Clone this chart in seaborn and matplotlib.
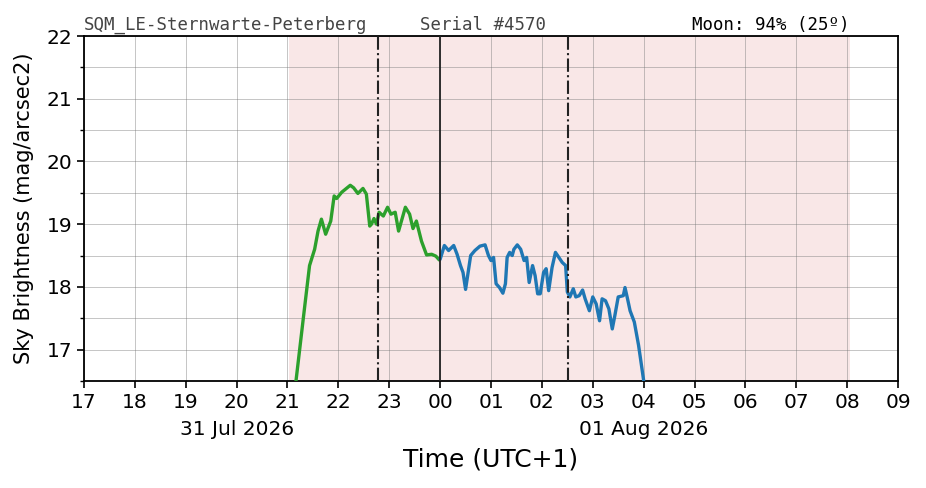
import matplotlib
matplotlib.use("Agg")
import matplotlib.pyplot as plt
import matplotlib.dates as mdates
import matplotlib.ticker as mticker
import matplotlib.transforms as mtransforms
import pandas as pd
import seaborn as sns

sns.set_theme(style="ticks")
plt.rcParams["font.family"] = ["DejaVu Sans"]
plt.rcParams["text.color"] = "black"
plt.rcParams["axes.labelcolor"] = "black"
plt.rcParams["xtick.color"] = "black"
plt.rcParams["ytick.color"] = "black"

# evening part (31 Jul), green
green_time = ["21:10", "21:19", "21:26", "21:32", "21:36", "21:40", "21:45", "21:51",
              "21:55", "21:58", "22:04", "22:14", "22:18", "22:23", "22:29", "22:33",
              "22:37", "22:39", "22:42", "22:45", "22:48", "22:53", "22:58", "23:02",
              "23:07", "23:11", "23:15", "23:19", "23:24", "23:28", "23:32", "23:38",
              "23:44", "23:50", "23:55", "23:59"]
green_mag = [16.50, 17.54, 18.34, 18.60, 18.89, 19.08, 18.84, 19.05,
             19.45, 19.41, 19.51, 19.62, 19.58, 19.49, 19.57, 19.48,
             18.97, 19.00, 19.09, 19.00, 19.19, 19.13, 19.27, 19.16,
             19.19, 18.89, 19.08, 19.27, 19.16, 18.93, 19.05, 18.73,
             18.51, 18.52, 18.49, 18.43]

# after midnight (01 Aug), blue
blue_time = ["00:00", "00:05", "00:10", "00:16", "00:20", "00:24", "00:27", "00:30",
             "00:33", "00:36", "00:41", "00:47", "00:53", "00:57", "01:00", "01:03",
             "01:06", "01:10", "01:14", "01:17", "01:19", "01:22", "01:25", "01:27",
             "01:31", "01:35", "01:39", "01:42", "01:45", "01:49", "01:52", "01:55",
             "01:58", "02:02", "02:05", "02:08", "02:12", "02:16", "02:20", "02:24",
             "02:28", "02:30", "02:33", "02:37", "02:40", "02:44", "02:48", "02:51",
             "02:56", "03:00", "03:04", "03:08", "03:11", "03:15", "03:19", "03:23",
             "03:26", "03:30", "03:36", "03:38", "03:41", "03:44", "03:49", "03:54",
             "04:00"]
blue_mag = [18.44, 18.66, 18.58, 18.66, 18.52, 18.34, 18.23, 17.96,
            18.23, 18.50, 18.58, 18.65, 18.67, 18.50, 18.42, 18.47,
            18.05, 17.99, 17.90, 18.05, 18.47, 18.55, 18.50, 18.60,
            18.67, 18.60, 18.42, 18.47, 18.07, 18.34, 18.18, 17.89,
            17.89, 18.23, 18.29, 17.94, 18.31, 18.55, 18.47, 18.39,
            18.34, 17.92, 17.84, 17.97, 17.84, 17.86, 17.95, 17.81,
            17.62, 17.84, 17.73, 17.46, 17.81, 17.78, 17.65, 17.33,
            17.54, 17.84, 17.86, 17.99, 17.81, 17.62, 17.44, 17.07,
            16.51]

night_span = ("2026-07-31 21:02", "2026-08-01 08:03")
moon_lines = ["2026-07-31 22:47", "2026-08-01 02:31"]
midnight = "2026-08-01 00:00"
x_range = ("2026-07-31 17:00", "2026-08-01 09:00")
date_ticks = ["2026-07-31 20:00", "2026-08-01 04:00"]
date_labels = ["31 Jul 2026", "01 Aug 2026"]

green_df = pd.DataFrame({
    "time": pd.to_datetime(["2026-07-31 " + t for t in green_time]),
    "mag": green_mag,
})
blue_df = pd.DataFrame({
    "time": pd.to_datetime(["2026-08-01 " + t for t in blue_time]),
    "mag": blue_mag,
})

fig = plt.figure(figsize=(9.26, 4.88), dpi=100)
ax = fig.add_axes([0.0907, 0.2193, 0.8791, 0.7069])

ax.axvspan(pd.Timestamp(night_span[0]), pd.Timestamp(night_span[1]),
           color="#e8a0a0", alpha=0.25, lw=0, zorder=0)

sns.lineplot(data=green_df, x="time", y="mag", color="#2ca02c", lw=2.4, ax=ax, zorder=3)
sns.lineplot(data=blue_df, x="time", y="mag", color="#1f77b4", lw=2.4, ax=ax, zorder=3)

for t in moon_lines:
    ax.axvline(pd.Timestamp(t), color="#222222", lw=1.5, ls="-.", zorder=4)
ax.axvline(pd.Timestamp(midnight), color="#222222", lw=1.3, zorder=4)

ax.set_xlim(pd.Timestamp(x_range[0]), pd.Timestamp(x_range[1]))
ax.set_ylim(16.5, 22)

ax.xaxis.set_major_locator(mdates.HourLocator(interval=1))
ax.xaxis.set_major_formatter(mdates.DateFormatter("%H"))
ax.yaxis.set_major_locator(mticker.MultipleLocator(1))
ax.yaxis.set_minor_locator(mticker.MultipleLocator(0.5))

# date line under the hour labels
trans = mtransforms.blended_transform_factory(ax.transData, ax.transAxes)
for t, lab in zip(date_ticks, date_labels):
    ax.text(mdates.date2num(pd.Timestamp(t)), -0.142, lab, transform=trans,
            ha="center", va="center", fontsize=14.5)

ax.grid(which="major", color="#777777", lw=0.5, alpha=0.6)
ax.grid(which="minor", axis="y", color="#777777", lw=0.5, alpha=0.6)
ax.tick_params(axis="both", which="major", labelsize=14.5, length=5, width=1.2)
ax.tick_params(axis="y", which="minor", length=3, width=1)
for s in ax.spines.values():
    s.set_color("black")
    s.set_linewidth(1.3)

ax.set_xlabel("Time (UTC+1)", fontsize=18, labelpad=26)
ax.set_ylabel("Sky Brightness (mag/arcsec2)", fontsize=15, labelpad=9)

mono = ["DejaVu Sans Mono"]
fig.text(84 / 926, 1 - 25 / 488, "SQM_LE-Sternwarte-Peterberg", family=mono,
         fontsize=12.5, color="#444444", ha="left", va="center")
fig.text(420 / 926, 1 - 25 / 488, "Serial #4570", family=mono,
         fontsize=12.5, color="#444444", ha="left", va="center")
fig.text(849 / 926, 1 - 25 / 488, "Moon: 94% (25º)", family=mono,
         fontsize=12.5, color="black", ha="right", va="center")

fig.savefig("out.png", dpi=100)
